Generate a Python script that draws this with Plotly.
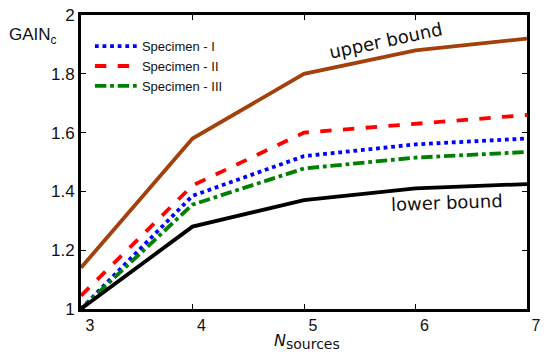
import plotly.graph_objects as go

n_sources = [3, 4, 5, 6, 7]
upper_bound = [1.14, 1.58, 1.80, 1.88, 1.92]
specimen_1 = [1.00, 1.385, 1.52, 1.56, 1.58]
specimen_2 = [1.045, 1.42, 1.60, 1.63, 1.66]
specimen_3 = [1.00, 1.355, 1.478, 1.515, 1.534]
lower_bound = [1.00, 1.28, 1.37, 1.41, 1.425]

x_ticks = [3, 4, 5, 6, 7]
y_ticks = [1, 1.2, 1.4, 1.6, 1.8, 2]
y_ticklabels = ["1", "1.2", "1.4", "1.6", "1.8", "2"]

fig = go.Figure()
fig.add_trace(go.Scatter(x=n_sources, y=upper_bound, mode="lines", showlegend=False,
                         line=dict(color="#A4400C", width=3.8)))
fig.add_trace(go.Scatter(x=n_sources, y=specimen_2, mode="lines", name="Specimen - II",
                         legendrank=2, line=dict(color="#FF0000", width=3.8, dash="dash")))
fig.add_trace(go.Scatter(x=n_sources, y=specimen_1, mode="lines", name="Specimen - I",
                         legendrank=1, line=dict(color="#0000FF", width=3.8, dash="dot")))
fig.add_trace(go.Scatter(x=n_sources, y=specimen_3, mode="lines", name="Specimen - III",
                         legendrank=3, line=dict(color="#008000", width=3.8, dash="dashdot")))
fig.add_trace(go.Scatter(x=n_sources, y=lower_bound, mode="lines", showlegend=False,
                         line=dict(color="#000000", width=3.8)))

tickfont = dict(family="Liberation Sans, Arial, sans-serif", size=16, color="#111")
fig.update_xaxes(range=[3, 7], tickvals=x_ticks, ticks="inside", ticklen=5, tickwidth=1,
                 tickcolor="black", showline=True, linewidth=3, linecolor="black",
                 mirror="allticks", showgrid=False, zeroline=False, tickfont=tickfont,
                 ticklabelshift=9)
fig.update_yaxes(range=[0.9995, 2.0005], tickvals=y_ticks, ticktext=y_ticklabels, ticks="inside",
                 ticklen=5, tickwidth=1, tickcolor="black", showline=True, linewidth=3,
                 linecolor="black", mirror="allticks", showgrid=False, zeroline=False,
                 tickfont=dict(family="Liberation Sans, Arial, sans-serif", size=17, color="#111"))

fig.update_layout(
    width=547, height=358,
    margin=dict(l=81, r=14, t=6, b=49),
    plot_bgcolor="white", paper_bgcolor="white",
    legend=dict(x=0.02, y=0.945, xanchor="left", yanchor="top", bgcolor="rgba(0,0,0,0)",
                itemwidth=42, tracegroupgap=0,
                font=dict(family="Liberation Sans, Arial, sans-serif", size=13, color="#111"),
                traceorder="normal"),
    annotations=[
        dict(text="upper bound", x=5.73, y=1.915, xref="x", yref="y", showarrow=False,
             textangle=-12, font=dict(family="DejaVu Sans", size=18, color="#111")),
        dict(text="lower bound", x=6.28, y=1.362, xref="x", yref="y", showarrow=False,
             textangle=-2, font=dict(family="DejaVu Sans", size=18, color="#111")),
        dict(text="GAIN<sub>c</sub>", x=-0.165, y=0.972, xref="paper", yref="paper",
             xanchor="left", showarrow=False,
             font=dict(family="Liberation Sans, Arial, sans-serif", size=17, color="#111")),
        dict(text="<i>N</i><sub><span style='font-size:14px'>sources</span></sub>",
             x=0.429, y=-0.112, xref="paper", yref="paper", xanchor="left",
             yanchor="middle", showarrow=False,
             font=dict(family="DejaVu Sans", size=16, color="#111")),
    ],
)

fig.write_html("out.html")
